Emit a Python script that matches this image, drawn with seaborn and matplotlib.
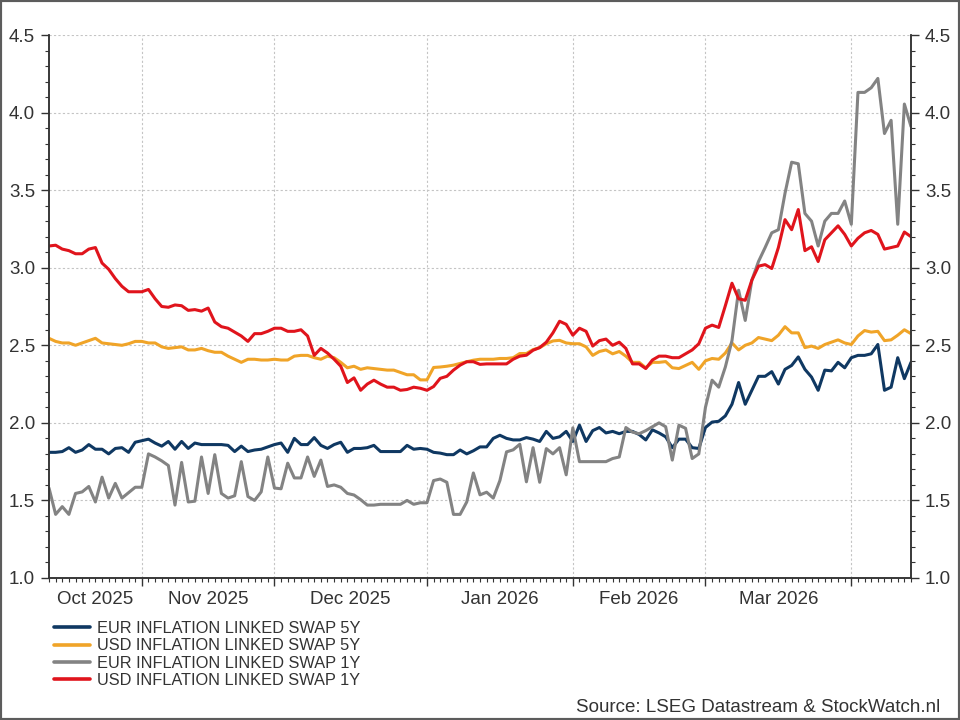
import numpy as np
import pandas as pd
import seaborn as sns
import matplotlib
matplotlib.use("Agg")
from matplotlib import pyplot as plt
from matplotlib.patches import Rectangle
from matplotlib.ticker import MultipleLocator, FormatStrFormatter

# ------------------------------------------------------------
# data (business days)
# ------------------------------------------------------------
dates = pd.bdate_range("2025-10-14", "2026-04-14")

eur_5y = [
    1.81, 1.81, 1.815, 1.84, 1.81, 1.825, 1.86, 1.83, 1.83, 1.80,
    1.835, 1.84, 1.81, 1.875, 1.885, 1.895, 1.87, 1.85, 1.88, 1.83,
    1.88, 1.835, 1.87, 1.86, 1.86, 1.86, 1.86, 1.855, 1.815, 1.85,
    1.815, 1.825, 1.83, 1.845, 1.86, 1.87, 1.81, 1.90, 1.86, 1.86,
    1.905, 1.855, 1.835, 1.86, 1.875, 1.81, 1.835, 1.835, 1.84, 1.855,
    1.815, 1.815, 1.815, 1.815, 1.855, 1.83, 1.835, 1.83, 1.81, 1.805,
    1.795, 1.795, 1.825, 1.80, 1.82, 1.845, 1.845, 1.90, 1.92, 1.90,
    1.89, 1.89, 1.905, 1.895, 1.88, 1.945, 1.90, 1.91, 1.945, 1.88,
    1.985, 1.88, 1.95, 1.97, 1.935, 1.945, 1.93, 1.945, 1.945, 1.925,
    1.89, 1.955, 1.935, 1.91, 1.84, 1.895, 1.895, 1.84, 1.835, 1.97,
    2.005, 2.01, 2.045, 2.12, 2.26, 2.12, 2.21, 2.30, 2.30, 2.33,
    2.25, 2.345, 2.37, 2.425, 2.345, 2.295, 2.21, 2.34, 2.335, 2.39,
    2.355, 2.42, 2.435, 2.435, 2.445, 2.505, 2.21, 2.23, 2.42, 2.285, 2.39,
]

usd_5y = [
    2.545, 2.525, 2.515, 2.515, 2.50, 2.515, 2.53, 2.545, 2.515, 2.51,
    2.505, 2.50, 2.51, 2.525, 2.525, 2.515, 2.515, 2.49, 2.48, 2.485,
    2.49, 2.47, 2.47, 2.48, 2.465, 2.455, 2.455, 2.43, 2.41, 2.39,
    2.41, 2.41, 2.405, 2.405, 2.41, 2.405, 2.405, 2.43, 2.435, 2.435,
    2.42, 2.41, 2.43, 2.42, 2.39, 2.355, 2.365, 2.345, 2.355, 2.35,
    2.345, 2.34, 2.34, 2.325, 2.31, 2.31, 2.277, 2.277, 2.357, 2.36,
    2.365, 2.372, 2.383, 2.394, 2.404, 2.41, 2.41, 2.41, 2.415, 2.415,
    2.42, 2.447, 2.447, 2.472, 2.485, 2.51, 2.528, 2.532, 2.515, 2.51,
    2.51, 2.49, 2.435, 2.46, 2.47, 2.445, 2.46, 2.43, 2.39, 2.39,
    2.355, 2.39, 2.39, 2.395, 2.355, 2.35, 2.37, 2.39, 2.345, 2.40,
    2.415, 2.41, 2.45, 2.515, 2.47, 2.50, 2.515, 2.55, 2.54, 2.53,
    2.565, 2.62, 2.58, 2.58, 2.485, 2.495, 2.48, 2.505, 2.52, 2.535,
    2.515, 2.505, 2.56, 2.595, 2.585, 2.59, 2.53, 2.535, 2.565, 2.60, 2.575,
]

eur_1y = [
    1.58, 1.41, 1.46, 1.41, 1.545, 1.555, 1.59, 1.49, 1.65, 1.515,
    1.61, 1.515, 1.55, 1.585, 1.585, 1.80, 1.78, 1.755, 1.725, 1.47,
    1.745, 1.49, 1.495, 1.78, 1.545, 1.795, 1.545, 1.515, 1.53, 1.75,
    1.525, 1.50, 1.555, 1.78, 1.58, 1.575, 1.74, 1.645, 1.645, 1.78,
    1.655, 1.76, 1.59, 1.60, 1.585, 1.545, 1.535, 1.505, 1.47, 1.47,
    1.475, 1.475, 1.475, 1.475, 1.50, 1.475, 1.485, 1.485, 1.628, 1.638,
    1.617, 1.41, 1.41, 1.49, 1.677, 1.536, 1.553, 1.515, 1.628, 1.813,
    1.826, 1.862, 1.62, 1.84, 1.617, 1.834, 1.80, 1.84, 1.665, 1.968,
    1.75, 1.75, 1.75, 1.75, 1.75, 1.77, 1.78, 1.97, 1.94, 1.93,
    1.95, 1.975, 2.00, 1.975, 1.76, 1.985, 1.965, 1.77, 1.80, 2.10,
    2.275, 2.23, 2.36, 2.53, 2.855, 2.66, 2.92, 3.04, 3.13, 3.225,
    3.245, 3.48, 3.68, 3.67, 3.35, 3.30, 3.14, 3.30, 3.35, 3.35,
    3.43, 3.28, 4.13, 4.13, 4.16, 4.22, 3.865, 3.95, 3.28, 4.055, 3.91,
]

usd_1y = [
    3.14, 3.145, 3.12, 3.11, 3.09, 3.09, 3.12, 3.13, 3.03, 2.99,
    2.93, 2.88, 2.845, 2.845, 2.845, 2.86, 2.80, 2.75, 2.745, 2.76,
    2.755, 2.725, 2.73, 2.72, 2.74, 2.65, 2.62, 2.61, 2.585, 2.56,
    2.525, 2.575, 2.575, 2.59, 2.61, 2.61, 2.59, 2.59, 2.60, 2.56,
    2.435, 2.48, 2.45, 2.41, 2.365, 2.26, 2.29, 2.21, 2.25, 2.275,
    2.25, 2.23, 2.23, 2.21, 2.215, 2.23, 2.223, 2.21, 2.234, 2.287,
    2.30, 2.34, 2.372, 2.394, 2.394, 2.377, 2.38, 2.38, 2.38, 2.38,
    2.41, 2.43, 2.436, 2.468, 2.485, 2.52, 2.58, 2.655, 2.635, 2.565,
    2.61, 2.59, 2.495, 2.53, 2.54, 2.50, 2.52, 2.48, 2.38, 2.38,
    2.35, 2.405, 2.43, 2.43, 2.42, 2.42, 2.445, 2.47, 2.51, 2.61,
    2.63, 2.615, 2.755, 2.90, 2.80, 2.79, 2.92, 3.01, 3.02, 2.995,
    3.13, 3.31, 3.245, 3.375, 3.11, 3.135, 3.04, 3.18, 3.225, 3.27,
    3.215, 3.14, 3.19, 3.225, 3.24, 3.215, 3.12, 3.13, 3.14, 3.23, 3.20,
]

series_names = [
    "EUR INFLATION LINKED SWAP 5Y",
    "USD INFLATION LINKED SWAP 5Y",
    "EUR INFLATION LINKED SWAP 1Y",
    "USD INFLATION LINKED SWAP 1Y",
]
series_colors = ["#0f3862", "#f0a428", "#838383", "#e0141c"]
y_ticks = [1.0, 1.5, 2.0, 2.5, 3.0, 3.5, 4.0, 4.5]
source_text = "Source: LSEG Datastream & StockWatch.nl"

# long table for seaborn, x = business-day position
idx = np.arange(len(dates))
df = pd.concat([
    pd.DataFrame({"idx": idx, "value": vals, "series": name})
    for name, vals in zip(series_names, [eur_5y, usd_5y, eur_1y, usd_1y])
], ignore_index=True)

# ------------------------------------------------------------
# plot
# ------------------------------------------------------------
sns.set_style("ticks")
plt.rcParams["font.family"] = ["Liberation Sans", "DejaVu Sans"]
text_col = "#333333"

fig = plt.figure(figsize=(9.6, 7.2), dpi=100)
ax = fig.add_axes([49 / 960, 1 - 578 / 720, (911 - 49) / 960, (578 - 35) / 720])

sns.lineplot(data=df, x="idx", y="value", hue="series", hue_order=series_names,
             palette=series_colors, linewidth=2.2, ax=ax, legend=True)

ax.set_xlim(0, len(dates) - 1)
ax.set_ylim(y_ticks[0], y_ticks[-1])
ax.set_xlabel("")
ax.set_ylabel("")

# month starts -> major ticks + grid, every business day -> minor tick
months = pd.Series(dates.to_period("M"))
starts = [i for i in range(1, len(dates)) if months[i] != months[i - 1]]
ax.set_xticks(starts)
ax.set_xticklabels([])
ax.set_xticks(idx, minor=True)
ax.tick_params(axis="x", which="major", length=6, width=1, color=text_col)
ax.tick_params(axis="x", which="minor", length=3, width=0.8, color=text_col)

bounds = [0] + starts + [len(dates) - 1]
for a, b in zip(bounds[:-1], bounds[1:]):
    if b - a < 12:
        continue
    ax.annotate(dates[a + 1].strftime("%b %Y"), xy=((a + b) / 2, 0),
                xycoords=("data", "axes fraction"), xytext=(0, -9),
                textcoords="offset points", ha="center", va="top",
                fontsize=13.5, color=text_col)

# y axes on both sides
ax.set_yticks(y_ticks)
ax.yaxis.set_major_formatter(FormatStrFormatter("%.1f"))
ax.yaxis.set_minor_locator(MultipleLocator(0.1))
ax.tick_params(axis="y", which="major", length=6, width=1, labelsize=13.5,
               labelcolor=text_col, color=text_col, pad=4)
ax.tick_params(axis="y", which="minor", length=3, width=0.8, color=text_col)

ax2 = ax.twinx()
ax2.set_ylim(ax.get_ylim())
ax2.set_yticks(y_ticks)
ax2.yaxis.set_major_formatter(FormatStrFormatter("%.1f"))
ax2.yaxis.set_minor_locator(MultipleLocator(0.1))
ax2.tick_params(axis="y", which="major", length=6, width=1, labelsize=13.5,
                labelcolor=text_col, color=text_col, pad=4)
ax2.tick_params(axis="y", which="minor", length=3, width=0.8, color=text_col)

for a_ in (ax, ax2):
    a_.spines["top"].set_visible(False)
    for s in ("left", "right", "bottom"):
        a_.spines[s].set_color(text_col)
        a_.spines[s].set_linewidth(1.1)

ax.grid(True, which="major", linestyle=(0, (2, 2)), color="#c4c4c4", linewidth=0.8)
ax.set_axisbelow(True)

# legend below the plot
handles, labels = ax.get_legend_handles_labels()
ax.legend_.remove()
leg = fig.legend(handles, labels, loc="upper left",
                 bbox_to_anchor=(54 / 960, 1 - 621 / 720), frameon=False,
                 fontsize=11.8, handlelength=2.2, handletextpad=0.45,
                 labelspacing=0.14, borderpad=0, borderaxespad=0)
for t in leg.get_texts():
    t.set_color(text_col)
for h in leg.get_lines():
    h.set_linewidth(2.6)

fig.text(940 / 960, 1 - 707 / 720, source_text, ha="right", va="center",
         fontsize=13.5, color=text_col)

# frame round the whole picture
fig.patches.append(Rectangle((0, 0), 1, 1, transform=fig.transFigure, fill=False,
                             edgecolor="#5c5c5c", linewidth=3, zorder=10))

fig.savefig("out.png", dpi=100, facecolor="white")
